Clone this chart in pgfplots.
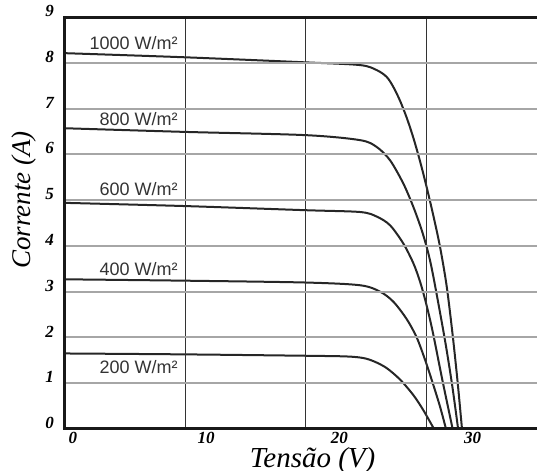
\documentclass[border=0pt]{standalone}
\usepackage{fontspec}
\setmainfont{Liberation Serif}
\newfontfamily\labsans{Liberation Sans}
\usepackage{pgfplots}
\pgfplotsset{compat=1.18}
\begin{document}
\begin{tikzpicture}
\useasboundingbox (-32.5pt,-21pt) rectangle (236pt,214.5pt);
\begin{axis}[
  at={(0,0)}, anchor=south west,
  scale only axis, width=239pt, height=206pt,
  xmin=-0.6, xmax=35.28, ymin=0, ymax=9,
  axis line style={line width=1.5pt, black!90},
  axis on top,
  xtick={0,10,20,30},
  minor xtick={8.41,17.42,26.5},
  ytick={0,1,...,9},
  major tick length=0pt, minor tick length=0pt,
  ymajorgrids, xminorgrids,
  major grid style={gray!70, line width=1pt},
  minor grid style={black!80, line width=0.5pt},
  /pgf/number format/assume math mode=true,
  ticklabel style={font=\fontsize{8.5}{9}\selectfont\bfseries\itshape},
  yticklabel style={yshift=3pt, xshift=-2pt},
  xticklabel style={yshift=2pt},
  xlabel={Tensão (V)}, ylabel={Corrente (A)},
  xlabel style={font=\fontsize{14.5}{15}\selectfont\itshape, at={(axis description cs:0.518,-0.076)}, anchor=center},
  ylabel style={font=\fontsize{13.5}{14}\selectfont\itshape, at={(axis description cs:-0.086,0.556)}, anchor=center},
  clip=false,
]
\addplot[smooth, tension=0.5, line width=1pt, black!85] coordinates {
(-0.6,8.21) (8.41,8.12) (17.42,8.01) (21.55,7.95) (22.8,7.84) (23.55,7.69) (24.05,7.47) (24.55,7.17) (25.05,6.80) (25.55,6.36) (26.05,5.85) (26.55,5.28) (27.05,4.66) (27.55,3.98) (28.05,3.12) (28.5,2.05) (28.88,1.0) (29.2,0)};
\addplot[smooth, tension=0.5, line width=1pt, black!85] coordinates {
(-0.6,6.57) (8.41,6.49) (17.42,6.42) (21.55,6.31) (22.8,6.16) (23.8,5.87) (24.8,5.36) (25.55,4.85) (26.18,4.34) (26.67,3.84) (27.05,3.33) (27.88,2.01) (28.44,1.0) (28.91,0)};
\addplot[smooth, tension=0.5, line width=1pt, black!85] coordinates {
(-0.6,4.94) (8.41,4.87) (17.42,4.78) (21.55,4.74) (22.8,4.64) (23.8,4.45) (24.8,4.05) (25.55,3.62) (26.05,3.22) (26.5,2.75) (26.99,2.14) (27.74,1.05) (28.5,0)};
\addplot[smooth, tension=0.5, line width=1pt, black!85] coordinates {
(-0.6,3.27) (8.41,3.24) (17.42,3.20) (21.55,3.14) (23.05,3.0) (24.05,2.78) (25.05,2.40) (25.8,2.0) (26.43,1.51) (26.93,1.07) (27.55,0.49) (28.0,0)};
\addplot[smooth, tension=0.5, line width=1pt, black!85] coordinates {
(-0.6,1.65) (8.41,1.63) (17.42,1.60) (20.5,1.585) (21.8,1.55) (22.65,1.47) (23.55,1.33) (24.55,1.08) (25.55,0.74) (26.3,0.41) (27.1,0)};
\begin{scope}[every node/.style={anchor=east, font=\labsans\fontsize{9}{10}\selectfont, text=black!80, inner sep=0pt}]
\node at (axis cs:7.88,8.43) {1000 W/m²};
\node at (axis cs:7.88,6.77) {800 W/m²};
\node at (axis cs:7.88,5.24) {600 W/m²};
\node at (axis cs:7.88,3.49) {400 W/m²};
\node at (axis cs:7.88,1.35) {200 W/m²};
\end{scope}
\end{axis}
\end{tikzpicture}
\end{document}
